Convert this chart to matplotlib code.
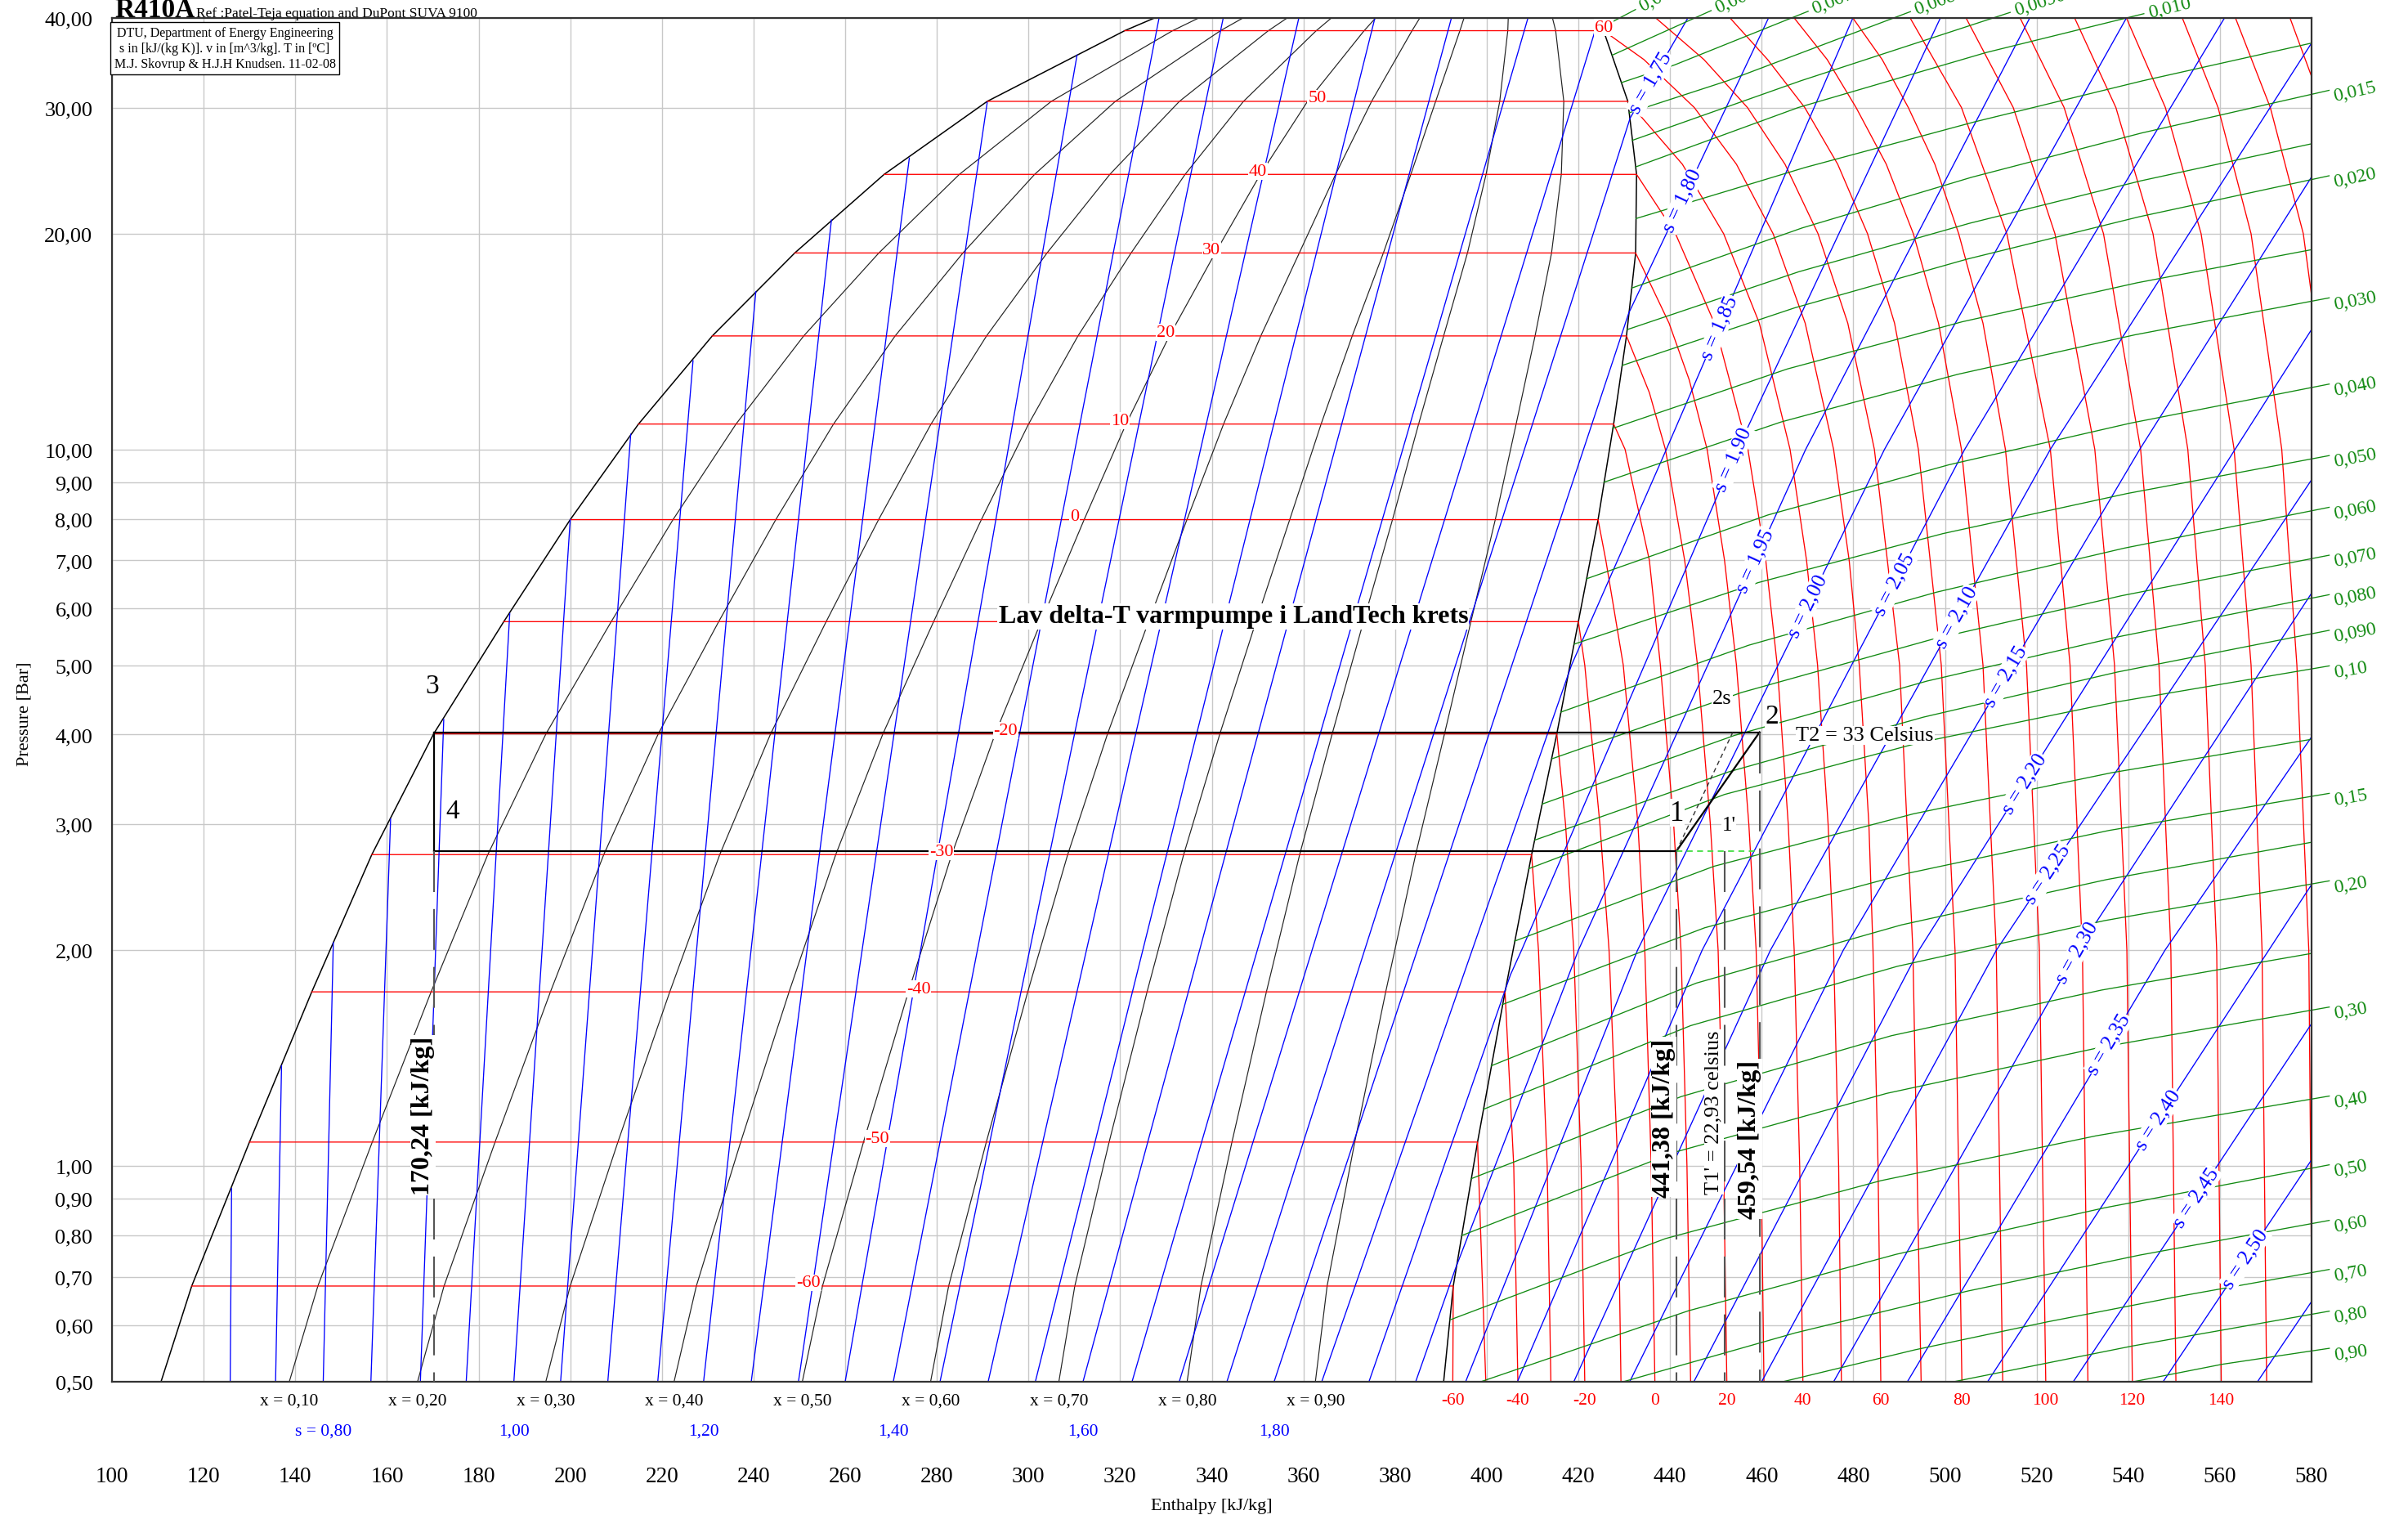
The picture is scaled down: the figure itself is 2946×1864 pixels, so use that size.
import numpy as np
import matplotlib
matplotlib.use("Agg")
import matplotlib.pyplot as plt
from matplotlib.ticker import FuncFormatter, NullLocator
from matplotlib.transforms import offset_copy

plt.rcParams["font.family"] = ["Liberation Serif", "DejaVu Serif"]

RED = "#ff0000"
BLUE = "#0000ff"
GREEN = "#118a11"
GRID = "#c8c8c8"

# --- saturation dome (p in bar, h in kJ/kg) ---
sat_p = [0.5, 0.68, 1.08, 1.75, 2.72, 4.01, 5.75, 7.98, 10.85, 14.4, 18.8, 24.2, 30.6, 38.4, 40.0]
sat_hf = [110.7, 117.4, 130.0, 143.6, 156.7, 170.2, 185.5, 200.0, 214.9, 231.0, 249.0, 268.5, 291.0, 321.0, 327.5]
sat_hg = [390.6, 392.7, 398.0, 404.0, 409.8, 415.3, 420.0, 424.3, 427.7, 430.5, 432.5, 432.7, 430.8, 425.5, 424.0]
sat_temps = [-60, -50, -40, -30, -20, -10, 0, 10, 20, 30, 40, 50, 60]   # = sat_p[1:-1]

qualities = [0.1, 0.2, 0.3, 0.4, 0.5, 0.6, 0.7, 0.8, 0.9]

# --- isotherms in the vapour region: (p list, h list) ---
iso_t = {
    -60: ([0.68, 0.5], [392.7, 392.6]),
    -50: ([1.08, 0.5], [398.0, 399.8]),
    -40: ([1.75, 1.0, 0.5], [404.0, 405.9, 406.8]),
    -30: ([2.72, 2.0, 1.0, 0.5], [409.8, 411.3, 413.2, 414.0]),
    -20: ([4.01, 3.0, 2.0, 1.0, 0.5], [415.3, 417.2, 419.0, 420.6, 421.4]),
    -10: ([5.75, 5.0, 3.0, 2.0, 1.0, 0.5], [420.0, 421.4, 424.7, 426.7, 428.6, 429.3]),
    0: ([7.98, 7.0, 5.0, 3.0, 2.0, 1.0, 0.5], [424.3, 426.0, 429.8, 433.0, 434.5, 435.9, 436.7]),
    10: ([10.85, 10.0, 7.0, 5.0, 3.0, 2.0, 1.0, 0.5], [427.7, 430.2, 435.5, 437.9, 440.8, 442.4, 443.7, 444.5]),
    20: ([14.4, 12.0, 10.0, 7.0, 5.0, 3.0, 2.0, 1.0, 0.5],
         [430.5, 435.5, 439.0, 443.2, 446.0, 448.8, 450.5, 451.7, 452.4]),
    30: ([18.8, 15.0, 12.5, 10.0, 7.0, 5.0, 3.0, 2.0, 1.0, 0.5],
         [432.5, 439.8, 444.2, 448.1, 451.9, 454.5, 457.2, 458.8, 459.9, 460.5]),
    40: ([24.2, 20.0, 15.0, 10.0, 7.0, 5.0, 3.0, 2.0, 1.0, 0.5],
         [432.7, 441.2, 449.7, 457.0, 460.9, 463.4, 465.8, 467.1, 468.3, 469.0]),
    50: ([30.6, 25.0, 20.0, 15.0, 10.0, 7.0, 5.0, 3.0, 2.0, 1.0, 0.5],
         [430.8, 442.7, 451.7, 459.5, 466.2, 469.8, 472.2, 474.5, 475.7, 476.8, 477.4]),
    60: ([38.4, 35.0, 30.0, 25.0, 20.0, 15.0, 10.0, 7.0, 5.0, 3.0, 2.0, 1.0, 0.5],
         [425.5, 434.3, 445.3, 454.5, 462.5, 469.5, 475.7, 479.1, 481.3, 483.4, 484.3, 485.4, 486.0]),
    70: ([40.0, 35.0, 30.0, 25.0, 20.0, 15.0, 10.0, 5.0, 2.0, 0.5],
         [436.9, 447.4, 456.9, 465.1, 472.3, 478.8, 484.6, 490.1, 493.0, 494.8]),
    80: ([40.0, 35.0, 30.0, 25.0, 20.0, 15.0, 10.0, 5.0, 2.0, 0.5],
         [453.1, 461.3, 469.4, 476.6, 483.1, 489.0, 494.2, 499.2, 502.2, 503.7]),
    90: ([40.0, 35.0, 30.0, 25.0, 20.0, 15.0, 10.0, 5.0, 2.0, 0.5],
         [467.1, 474.3, 480.6, 487.2, 493.1, 498.6, 503.6, 508.3, 511.2, 512.6]),
    100: ([40.0, 35.0, 30.0, 25.0, 20.0, 15.0, 10.0, 5.0, 2.0, 0.5],
          [479.9, 486.3, 492.0, 497.8, 503.0, 508.3, 513.2, 517.8, 520.6, 522.0]),
    110: ([40.0, 30.0, 20.0, 10.0, 5.0, 2.0, 0.5], [492.4, 503.6, 513.5, 523.0, 527.3, 530.0, 531.2]),
    120: ([40.0, 30.0, 20.0, 10.0, 5.0, 2.0, 0.5], [504.6, 514.9, 524.0, 532.7, 537.0, 539.7, 540.9]),
    130: ([40.0, 30.0, 20.0, 10.0, 5.0, 2.0, 0.5], [516.4, 526.0, 534.6, 542.7, 546.7, 549.3, 550.4]),
    140: ([40.0, 30.0, 20.0, 10.0, 5.0, 2.0, 0.5], [528.3, 537.3, 545.4, 553.0, 556.8, 559.3, 560.3]),
    150: ([40.0, 30.0, 20.0, 10.0, 5.0, 2.0, 0.5], [539.6, 548.1, 555.9, 563.1, 566.8, 569.2, 570.2]),
    160: ([40.0, 30.0, 20.0, 10.0, 5.0, 2.0, 0.5], [551.8, 559.6, 566.8, 573.5, 576.8, 579.4, 580.2]),
    170: ([40.0, 30.0, 20.0, 10.0], [563.4, 571.0, 578.2, 584.5]),
    180: ([40.0, 30.0], [575.3, 582.5]),
}
# where the red numbers sit on the two-phase isotherms (h)
t_label_h = {-60: 252, -50: 267, -40: 276, -30: 281, -20: 295, 0: 310, 10: 320,
             20: 330, 30: 340, 40: 350, 50: 363, 60: 425.5}
t_bottom_labels = [-60, -40, -20, 0, 20, 40, 60, 80, 100, 120, 140]

# --- isentropes inside the dome: bottom h at 0.5 bar and upper end point ---
s_dome = [0.70, 0.75, 0.80, 0.85, 0.90, 0.95, 1.00, 1.05, 1.10, 1.15, 1.20,
          1.25, 1.30, 1.35, 1.40, 1.45, 1.50, 1.55, 1.60, 1.65, 1.70]
s_dome_h0 = [125.8, 135.7, 146.1, 156.5, 167.3, 177.3, 187.7, 197.9, 208.2, 219.1, 229.1,
             239.5, 249.8, 260.0, 270.5, 280.7, 291.2, 301.5, 311.9, 322.6, 332.9]
s_dome_p1 = [0.93, 1.38, 2.05, 3.05, 4.2, 5.9, 7.98, 10.5, 13.3, 16.6, 20.9,
             25.5, 30.5, 35.5, 40, 40, 40, 40, 40, 40, 40]
s_dome_h1 = [126.1, 137.0, 148.3, 160.8, 172.4, 186.8, 200.0, 213.2, 226.8, 240.5, 257.0,
             274.0, 291.0, 310.6, 328.5, 342.5, 359.0, 375.6, 392.3, 409.0, 424.5]
s_bottom_labels = [0.80, 1.00, 1.20, 1.40, 1.60, 1.80]
s_bottom_h = [146.1, 187.7, 229.1, 270.5, 311.9, 353.6]

# --- isentropes reaching the vapour region ---
iso_s = {
    1.75: ([0.5, 29.0, 40.0], [343.3, 431.3, 443.9]),
    1.80: ([0.5, 15.5, 40.0], [353.6, 431.0, 461.5]),
    1.85: ([0.5, 5.0, 10.0, 40.0], [364.0, 418.5, 439.2, 479.9]),
    1.90: ([0.5, 1.85, 2.0, 10.0, 40.0], [374.3, 405.2, 407.6, 454.7, 499.0]),
    1.95: ([0.5, 0.72, 2.0, 10.0, 40.0], [384.5, 393.2, 420.0, 469.6, 518.5]),
    2.00: ([0.5, 2.0, 10.0, 40.0], [395.4, 432.9, 486.8, 539.6]),
    2.05: ([0.5, 2.0, 10.0, 40.0], [406.7, 447.0, 504.3, 561.0]),
    2.10: ([0.5, 2.0, 10.0, 36.9], [419.0, 461.9, 523.0, 580.0]),
    2.15: ([0.5, 2.0, 10.0, 24.0], [431.2, 477.8, 542.5, 580.0]),
    2.20: ([0.5, 2.0, 10.0, 14.7], [445.2, 494.3, 563.3, 580.0]),
    2.25: ([0.5, 2.0, 9.07], [460.0, 511.2, 580.0]),
    2.30: ([0.5, 2.0, 6.3], [475.7, 529.0, 580.0]),
    2.35: ([0.5, 2.0, 3.97], [491.8, 548.0, 580.0]),
    2.40: ([0.5, 1.16, 2.47], [509.3, 546.5, 580.0]),
    2.45: ([0.5, 0.905, 1.58], [528.0, 554.9, 580.0]),
    2.50: ([0.5, 1.02], [547.6, 580.0]),
    2.55: ([0.5, 0.647], [568.2, 580.0]),
}
# pressure at which each s label sits on its line
s_label_p = {1.75: 32.5, 1.80: 22.3, 1.85: 14.8, 1.90: 9.7, 1.95: 7.0, 2.00: 6.06,
             2.05: 6.5, 2.10: 5.84, 2.15: 4.83, 2.20: 3.42, 2.25: 2.56, 2.30: 1.99,
             2.35: 1.48, 2.40: 1.16, 2.45: 0.905, 2.50: 0.742}

# --- isochores (v in m3/kg) ---
iso_v = {
    0.0055: ([38.8, 40.0], [425.1, 429.0]),
    0.006: ([35.5, 40.0], [427.4, 445.4]),
    0.007: ([32.5, 34.4, 40.0], [429.4, 441.0, 466.5]),
    0.008: ([29.5, 32.7, 40.0], [431.1, 452.6, 488.8]),
    0.009: ([27.0, 32.7, 40.0], [431.8, 468.6, 510.5]),
    0.010: ([24.8, 30.0, 35.8, 40.0], [432.6, 468.0, 509.0, 539.6]),
    0.0125: ([21.0, 24.74, 28.63, 32.69, 36.9], [432.6, 469.45, 506.3, 543.15, 580.0]),
    0.015: ([16.8, 20.37, 23.98, 27.64, 31.3], [431.7, 468.8, 505.85, 542.9, 580.0]),
    0.0175: ([14.7, 17.69, 20.68, 23.70, 26.7], [430.7, 468.0, 505.35, 542.7, 580.0]),
    0.020: ([13.1, 15.76, 18.43, 21.12, 23.8], [429.6, 467.2, 504.8, 542.4, 580.0]),
    0.025: ([10.7, 12.95, 15.07, 17.08, 19.0], [427.5, 465.6, 503.75, 541.9, 580.0]),
    0.030: ([9.0, 10.92, 12.73, 14.45, 16.1], [425.6, 464.2, 502.8, 541.4, 580.0]),
    0.040: ([6.6, 8.10, 9.52, 10.88, 12.2], [421.8, 461.35, 500.9, 540.45, 580.0]),
    0.050: ([5.35, 6.52, 7.63, 8.68, 9.7], [419.1, 459.3, 499.55, 539.8, 580.0]),
    0.060: ([4.3, 5.33, 6.32, 7.28, 8.21], [416.2, 457.15, 498.1, 539.05, 580.0]),
    0.070: ([3.7, 4.58, 5.43, 6.25, 7.04], [414.2, 455.65, 497.1, 538.55, 580.0]),
    0.080: ([3.2, 3.99, 4.75, 5.48, 6.2], [412.1, 454.1, 496.05, 538.0, 580.0]),
    0.090: ([2.85, 3.55, 4.23, 4.89, 5.53], [410.5, 452.9, 495.25, 537.6, 580.0]),
    0.10: ([2.6, 3.30, 3.90, 4.44, 4.94], [409.2, 451.9, 494.6, 537.3, 580.0]),
    0.125: ([2.06, 2.62, 3.10, 3.54, 3.94], [406.1, 449.6, 493.05, 536.5, 580.0]),
    0.15: ([1.68, 2.15, 2.56, 2.94, 3.28], [403.4, 447.55, 491.7, 535.85, 580.0]),
    0.175: ([1.38, 1.80, 2.17, 2.51, 2.83], [401.0, 445.75, 490.5, 535.25, 580.0]),
    0.20: ([1.2, 1.57, 1.90, 2.20, 2.475], [399.3, 444.5, 489.65, 534.8, 580.0]),
    0.25: ([0.96, 1.25, 1.52, 1.76, 1.98], [396.6, 442.45, 488.3, 534.15, 580.0]),
    0.30: ([0.80, 1.045, 1.263, 1.463, 1.65], [394.6, 440.95, 487.3, 533.65, 580.0]),
    0.40: ([0.61, 0.792, 0.954, 1.102, 1.24], [392.0, 439.0, 486.0, 533.0, 580.0]),
    0.50: ([0.5, 0.628, 0.753, 0.874, 0.993], [398.7, 444.0, 489.35, 534.7, 580.0]),
    0.60: ([0.5, 0.585, 0.669, 0.751, 0.831], [429.8, 467.35, 504.9, 542.45, 580.0]),
    0.70: ([0.5, 0.554, 0.606, 0.658, 0.71], [464.6, 493.45, 522.3, 551.15, 580.0]),
    0.80: ([0.5, 0.561, 0.621], [501.9, 541.0, 580.0]),
    0.90: ([0.5, 0.529, 0.552], [541.1, 560.6, 580.0]),
}
v_labels = {0.0055: "0,0055", 0.006: "0,0060", 0.007: "0,0070", 0.008: "0,0080",
            0.009: "0,0090", 0.010: "0,010", 0.015: "0,015", 0.020: "0,020",
            0.030: "0,030", 0.040: "0,040", 0.050: "0,050", 0.060: "0,060",
            0.070: "0,070", 0.080: "0,080", 0.090: "0,090", 0.10: "0,10",
            0.15: "0,15", 0.20: "0,20", 0.30: "0,30", 0.40: "0,40", 0.50: "0,50",
            0.60: "0,60", 0.70: "0,70", 0.80: "0,80", 0.90: "0,90"}

# --- heat pump cycle ---
p_high, p_low = 4.03, 2.75
h3, h1, h2, h2s, h1p = 170.24, 441.38, 459.54, 453.7, 452.0

y_ticks = [0.5, 0.6, 0.7, 0.8, 0.9, 1, 2, 3, 4, 5, 6, 7, 8, 9, 10, 20, 30, 40]
x_ticks = list(range(100, 581, 20))


def comma(val, nd):
    return f"{val:.{nd}f}".replace(".", ",")


fig = plt.figure(figsize=(29.46, 18.65), dpi=100)
ax = fig.add_axes([137 / 2946, 1 - 1691 / 1865, 2691 / 2946, 1668 / 1865])
ax.set_yscale("log")
ax.set_xlim(100, 580)
ax.set_ylim(0.5, 40)
ax.set_yticks(y_ticks)
ax.yaxis.set_minor_locator(NullLocator())
ax.yaxis.set_major_formatter(FuncFormatter(lambda v, pos: comma(v, 2)))
ax.set_xticks(x_ticks)
ax.tick_params(axis="x", length=0, pad=74, labelsize=19.5)
ax.tick_params(axis="y", length=0, pad=17, labelsize=19)
ax.grid(True, color=GRID, lw=1.0)
ax.set_axisbelow(True)
for sp in ax.spines.values():
    sp.set_color("#333333")
    sp.set_linewidth(1.6)

LW = 0.95
WB = dict(facecolor="white", edgecolor="none", pad=0.6)


def point_on(pp, hh, p_at):
    lp = np.log10(pp)
    lt = np.log10(p_at)
    for i in range(len(pp) - 1):
        lo, hi = sorted((lp[i], lp[i + 1]))
        if hi > lo and lo <= lt <= hi:
            f = (lt - lp[i]) / (lp[i + 1] - lp[i])
            h_at = hh[i] + f * (hh[i + 1] - hh[i])
            a = ax.transData.transform((hh[i], pp[i]))
            b = ax.transData.transform((hh[i + 1], pp[i + 1]))
            ang = np.degrees(np.arctan2(b[1] - a[1], b[0] - a[0]))
            if ang > 90:
                ang -= 180
            if ang < -90:
                ang += 180
            return h_at, ang
    return hh[-1], 0.0


# dome
ax.plot(sat_hf, sat_p, color="black", lw=1.1, zorder=2)
ax.plot(sat_hg, sat_p, color="black", lw=1.1, zorder=2)
hf = np.array(sat_hf)
hg = np.array(sat_hg)
for x in qualities:
    ax.plot(hf + x * (hg - hf), sat_p, color="#222222", lw=0.85, zorder=2)

# isotherms
for i, t in enumerate(sat_temps):
    ps, hs = iso_t[t]
    ax.plot([sat_hf[i + 1]] + hs, [sat_p[i + 1]] + ps, color=RED, lw=LW, zorder=2)
for t in iso_t:
    if t in sat_temps:
        continue
    ps, hs = iso_t[t]
    ax.plot(hs, ps, color=RED, lw=LW, zorder=2)

raised = offset_copy(ax.transData, fig=fig, y=4, units="dots")
for t, hx in t_label_h.items():
    pt = sat_p[sat_temps.index(t) + 1]
    ax.text(hx, pt, str(t), color=RED, fontsize=16, ha="center", va="center",
            transform=raised, bbox=WB, zorder=5)

# isentropes
for s, a0, pe, he in zip(s_dome, s_dome_h0, s_dome_p1, s_dome_h1):
    ax.plot([a0, he], [0.5, pe], color=BLUE, lw=LW, zorder=2)
for s, (ps, hs) in iso_s.items():
    ax.plot(hs, ps, color=BLUE, lw=LW, zorder=2)
for s, p_at in s_label_p.items():
    ps, hs = iso_s[s]
    hx, ang = point_on(ps, hs, p_at)
    ax.text(hx, p_at, "s = " + comma(s, 2), color=BLUE, fontsize=18.5, rotation=ang,
            rotation_mode="anchor", ha="center", va="center", bbox=WB, zorder=5)

# isochores
inv = ax.transData.inverted()
for v, (ps, hs) in iso_v.items():
    ax.plot(hs, ps, color=GREEN, lw=LW, zorder=2)
    if v not in v_labels:
        continue
    a = ax.transData.transform((hs[-2], ps[-2]))
    b = ax.transData.transform((hs[-1], ps[-1]))
    u = (b - a) / np.hypot(*(b - a))
    e = inv.transform(b + u * 22)
    ax.plot([hs[-1], e[0]], [ps[-1], e[1]], color=GREEN, lw=LW, clip_on=False, zorder=2)
    shift = np.array([0.0, -9.0]) if hs[-1] >= 579.9 else np.array([0.0, 0.0])
    lab = inv.transform(b + u * 28 + shift)
    ang = np.degrees(np.arctan2(u[1], u[0]))
    ax.text(lab[0], lab[1], v_labels[v], color=GREEN, fontsize=17, rotation=ang,
            rotation_mode="anchor", ha="left", va="center", clip_on=False, zorder=5)

# labels under the axis
xf = ax.get_xaxis_transform()
for x in qualities:
    hb = sat_hf[0] + x * (sat_hg[0] - sat_hf[0])
    ax.text(hb, -0.0136, "x = " + comma(x, 2), transform=xf, fontsize=15.5,
            ha="center", va="center")
for t in t_bottom_labels:
    ax.text(iso_t[t][1][-1], -0.0136, str(t), transform=xf, fontsize=15.5,
            color=RED, ha="center", va="center")
for s, hb in zip(s_bottom_labels, s_bottom_h):
    txt = ("s = " if s == s_bottom_labels[0] else "") + comma(s, 2)
    ax.text(hb, -0.036, txt, transform=xf, fontsize=15.5, color=BLUE,
            ha="center", va="center")

# heat pump cycle
ax.plot([h3, h2], [p_high, p_high], color="black", lw=1.6, zorder=4)
ax.plot([h3, h3], [p_high, p_low], color="black", lw=1.6, zorder=4)
ax.plot([h3, h1], [p_low, p_low], color="black", lw=1.6, zorder=4)
ax.plot([h1, h2], [p_low, p_high], color="black", lw=1.6, zorder=4)
ax.plot([h1, h2s], [p_low, p_high], color="#333333", lw=1.0, dashes=(4, 3), zorder=4)
ax.plot([h1, h2], [p_low, p_low], color="#44dd44", lw=1.3, dashes=(4, 3), zorder=4)
for hv, ptop in [(h3, p_low), (h1, p_low), (h2, p_high), (h1p, p_low)]:
    ax.plot([hv, hv], [ptop, 0.5], color="#555555", lw=1.5, dashes=(24, 10), zorder=4)

ax.text(169.8, 4.68, "3", fontsize=24, ha="center", va="center", bbox=WB, zorder=6)
ax.text(174.4, 3.13, "4", fontsize=24, ha="center", va="center", bbox=WB, zorder=6)
ax.text(441.6, 3.11, "1", fontsize=25, ha="center", va="center", bbox=WB, zorder=6)
ax.text(462.3, 4.25, "2", fontsize=24, ha="center", va="center", bbox=WB, zorder=6)
ax.text(451.4, 4.5, "2s", fontsize=19, ha="center", va="center", bbox=WB, zorder=6)
ax.text(452.8, 2.99, "1'", fontsize=18, ha="center", va="center", bbox=WB, zorder=6)
ax.text(467.5, 3.99, "T2 = 33 Celsius", fontsize=19, ha="left", va="center", bbox=WB, zorder=6)
ax.text(167.8, 1.177, "170,24 [kJ/kg]", fontsize=23, fontweight="bold", rotation=90,
        ha="center", va="center", bbox=WB, zorder=6)
ax.text(438.6, 1.17, "441,38 [kJ/kg]", fontsize=23, fontweight="bold", rotation=90,
        ha="center", va="center", bbox=WB, zorder=6)
ax.text(457.3, 1.09, "459,54 [kJ/kg]", fontsize=23, fontweight="bold", rotation=90,
        ha="center", va="center", bbox=WB, zorder=6)
ax.text(449.6, 1.19, "T1' = 22,93 celsius", fontsize=19, rotation=90,
        ha="center", va="center", bbox=WB, zorder=6)
ax.text(344.7, 5.85, "Lav delta-T varmpumpe i LandTech krets", fontsize=23,
        fontweight="bold", ha="center", va="center",
        bbox=dict(facecolor="white", edgecolor="none", pad=1), zorder=6)

# header and axis titles
fig.text(140 / 2946, 1 - 21 / 1865, "R410A", fontsize=24, fontweight="bold", va="baseline")
fig.text(240 / 2946, 1 - 21 / 1865, "Ref :Patel-Teja equation and DuPont SUVA 9100",
         fontsize=12.5, va="baseline")
fig.text(275 / 2946, 1 - 60 / 1865,
         "DTU, Department of Energy Engineering\n"
         "s in [kJ/(kg K)]. v in [m^3/kg]. T in [ºC]\n"
         "M.J. Skovrup & H.J.H Knudsen. 11-02-08",
         fontsize=11.5, ha="center", va="center", linespacing=1.25,
         bbox=dict(boxstyle="square,pad=0.3", facecolor="white", edgecolor="black", lw=1))
fig.text(30 / 2946, 1 - 873 / 1865, "Pressure [Bar]", fontsize=16, rotation=90,
         ha="center", va="center")
fig.text(1482 / 2946, 1 - 1843 / 1865, "Enthalpy [kJ/kg]", fontsize=16,
         ha="center", va="center")

fig.savefig("out.png", dpi=100)
